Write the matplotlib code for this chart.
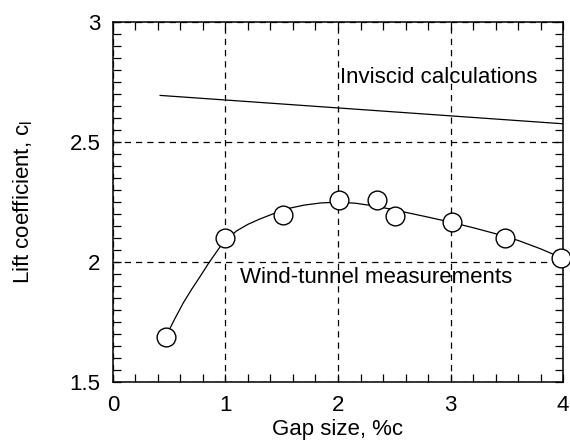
import matplotlib
matplotlib.use("Agg")
import matplotlib.pyplot as plt
from matplotlib.ticker import MultipleLocator

plt.rcParams['font.family'] = ['Liberation Sans', 'DejaVu Sans']
plt.rcParams['mathtext.fontset'] = 'custom'
plt.rcParams['mathtext.rm'] = 'Liberation Sans'
plt.rcParams['mathtext.it'] = 'Liberation Sans'

# Wind-tunnel measurements (markers)
gap_meas = [0.47, 1.0, 1.51, 2.01, 2.35, 2.51, 3.01, 3.48, 3.98]
cl_meas = [1.688, 2.10, 2.195, 2.257, 2.257, 2.19, 2.165, 2.10, 2.017]

gap_fit = [0.47, 0.55, 0.625, 0.70, 0.775, 0.85, 0.95, 1.0, 1.1, 1.2, 1.3, 1.425,
           1.55, 1.7, 1.85, 2.0, 2.15, 2.3, 2.45, 2.6, 2.8, 3.0, 3.2, 3.4, 3.6,
           3.8, 4.0]
cl_fit = [1.69, 1.764, 1.83, 1.887, 1.94, 1.995, 2.062, 2.09, 2.13, 2.157, 2.178,
          2.201, 2.222, 2.237, 2.246, 2.249, 2.245, 2.235, 2.222, 2.207, 2.187,
          2.166, 2.143, 2.118, 2.090, 2.055, 2.015]

# Inviscid calculations
gap_inv = [0.42, 4.0]
cl_inv = [2.693, 2.575]

x_ticks = [0, 1, 2, 3, 4]
x_ticklabels = ['0', '1', '2', '3', '4']
y_ticks = [1.5, 2, 2.5, 3]
y_ticklabels = ['1.5', '2', '2.5', '3']

fig = plt.figure(figsize=(5.7, 4.4), dpi=100)
ax = fig.add_axes([0.198, 0.131, 0.790, 0.820])

ax.plot(gap_inv, cl_inv, color='black', lw=0.9)
ax.plot(gap_fit, cl_fit, color='black', lw=0.9, zorder=3)
ax.plot(gap_meas, cl_meas, 'o', ms=13.5, mfc='white', mec='black', mew=1.0,
        zorder=4, clip_on=False)

ax.set_xlim(0, 4)
ax.set_ylim(1.5, 3)
ax.set_xticks(x_ticks)
ax.set_xticklabels(x_ticklabels)
ax.set_yticks(y_ticks)
ax.set_yticklabels(y_ticklabels)
ax.xaxis.set_minor_locator(MultipleLocator(0.2))
ax.yaxis.set_minor_locator(MultipleLocator(0.05))

ax.grid(True, which='major', color='black', ls=(0, (5, 4)), lw=0.9)
ax.tick_params(which='both', direction='in', top=True, right=True,
               length=6, width=0.9, labelsize=16, pad=9)
for s in ax.spines.values():
    s.set_linewidth(1.1)

ax.set_xlabel('Gap size, %c', fontsize=16, labelpad=2)
ax.set_ylabel(r'Lift coefficient, c$_\mathregular{l}$', fontsize=16, labelpad=25)

ax.text(2.02, 2.768, 'Inviscid calculations', fontsize=16, ha='left', va='center')
ax.text(1.13, 1.935, 'Wind-tunnel measurements', fontsize=16, ha='left', va='center')

fig.savefig('out.png', dpi=100)
